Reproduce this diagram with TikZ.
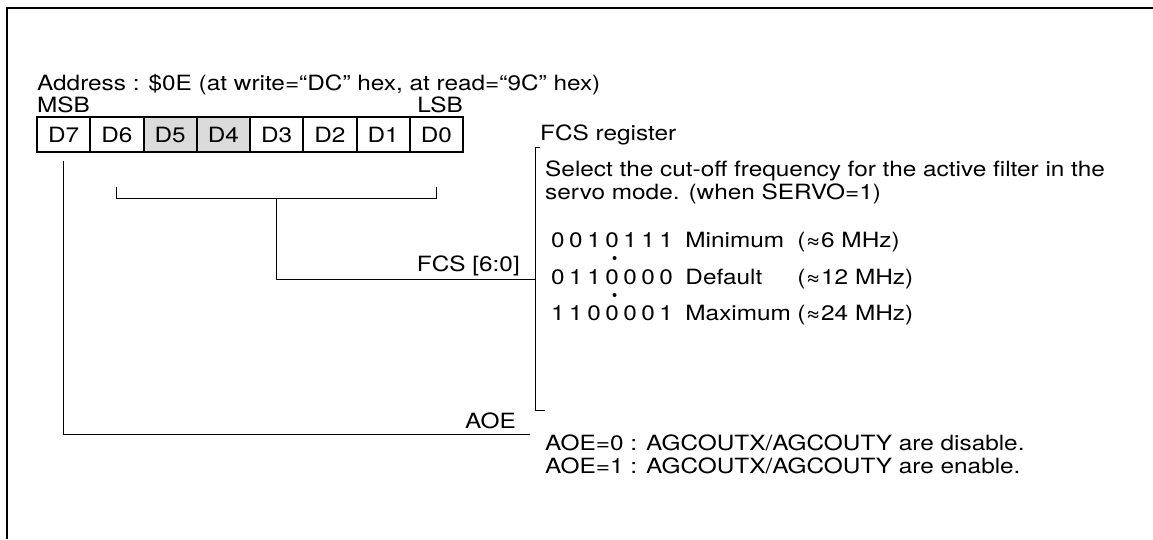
\documentclass[tikz,border=0pt]{standalone}
\usepackage{fontspec}
\setmainfont{TeX Gyre Heros}[FakeStretch=1.16]
\usetikzlibrary{positioning,calc}

\newcommand{\bits}[7]{#1\kern4.5pt#2\kern4.5pt#3\kern4.5pt#4\kern4.5pt#5\kern4.5pt#6\kern4.5pt#7}

\begin{document}
\begin{tikzpicture}[x=1pt,y=-1pt,
  txt/.style={inner sep=0pt,anchor=base west,font=\fontsize{21}{24}\selectfont},
  bitcell/.style={draw,line width=2pt,minimum width=53.25pt,minimum height=35pt,
    inner sep=0pt,font=\fontsize{21}{24}\selectfont},
  wire/.style={line width=0.9pt}]
\useasboundingbox (0,0) rectangle (1153,539);
% frame (top and left only)
\draw[line width=2pt] (7,539) -- (7,8) -- (1153,8);
%
\node[txt] (addr) at (37,90) {Address : \$0E (at write=“DC” hex, at read=“9C” hex)};
\node[txt] (msb) at (37,112) {MSB};
\node[txt,anchor=base east] (lsb) at (463,112) {LSB};
% register bits
\foreach \i in {7,...,0}{
  \pgfmathsetmacro{\xc}{37+(7-\i+0.5)*53.25}
  \ifnum\i=5 \def\cellfill{black!14}\else\ifnum\i=4 \def\cellfill{black!14}\else\def\cellfill{white}\fi\fi
  \node[bitcell,fill=\cellfill] (d\i) at (\xc,134.5) {D\i};
}
% FCS bracket
\coordinate (fcsl) at ([yshift=-45pt]d6.south);
\coordinate (fcsr) at ([yshift=-45pt]d0.south);
\coordinate (fcsm) at ($(fcsl)!0.5!(fcsr)$);
\draw[wire] ([yshift=11pt]fcsl) -- (fcsl) -- (fcsr) -- ([yshift=11pt]fcsr);
\coordinate (fcsin) at (535,279);
\draw[wire] (fcsm) |- (fcsin);
\node[txt,anchor=base east] (fcs) at (520,271) {FCS [6:0]};
% register description bracket
\coordinate (regtop) at (535,147);
\coordinate (regbot) at (535,410);
\draw[wire] ([xshift=5pt]regtop) -- (regtop) -- (regbot) -- ([xshift=10pt]regbot);
\node[txt] (regname) at (540,140) {FCS register};
\node[txt] (desc1) at (545,176) {Select the cut-off frequency for the active filter in the};
\node[txt] (desc2) at (545,199) {servo mode. (when SERVO=1)};
% setting values
\node[txt] (min) at (551,247) {\bits0010111};
\node[txt] (def) at (551,284) {\bits0110000};
\node[txt] (max) at (551,320) {\bits1100001};
\node[txt,right=12pt of max.base east,anchor=base west] (maxlbl) {Maximum};
\node[txt] (minlbl) at (maxlbl.base west |- min.base) {Minimum};
\node[txt] (deflbl) at (maxlbl.base west |- def.base) {Default};
\path (maxlbl.base east) ++(6pt,0) coordinate (fcol);
\node[txt] (minf) at (fcol |- min.base) {(≈6 MHz)};
\node[txt] (deff) at (fcol |- def.base) {(≈12 MHz)};
\node[txt] (maxf) at (fcol |- max.base) {(≈24 MHz)};
\fill ($(min.base west)!0.52!(min.base east)+(0,11)$) circle (2pt) coordinate (dot1);
\fill ($(def.base west)!0.52!(def.base east)+(0,11)$) circle (2pt) coordinate (dot2);
% AOE
\coordinate (aoein) at (530,434);
\draw[wire] ([yshift=-8pt]d7.south) |- (aoein);
\node[txt,anchor=base east] (aoe) at (516,428) {AOE};
\node[txt] (aoe0) at (545,450) {AOE=0 : AGCOUTX/AGCOUTY are disable.};
\node[txt] (aoe1) at (545,473) {AOE=1 : AGCOUTX/AGCOUTY are enable.};
\end{tikzpicture}
\end{document}
